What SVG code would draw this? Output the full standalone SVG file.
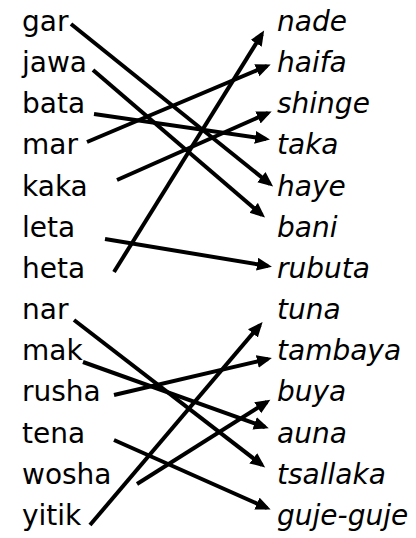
<svg xmlns="http://www.w3.org/2000/svg" width="416" height="538" viewBox="0 0 416 538">
<defs>
<style>
.l{font-family:"DejaVu Sans",sans-serif;font-size:28px;fill:#000}
.r{font-family:"DejaVu Sans",sans-serif;font-size:28px;font-style:italic;fill:#000}
.c line{stroke:#000;stroke-width:4;marker-end:url(#ah)}
</style>
<marker id="ah" markerUnits="userSpaceOnUse" markerWidth="16" markerHeight="14" refX="11" refY="6.5" orient="auto">
<path d="M0,0 L15,6.5 L0,13 z" fill="#000"/>
</marker>
</defs>
<rect width="416" height="538" fill="#fff"/>
<g id="left">
<g id="n-gar"><text class="l" x="22" y="31">gar</text></g>
<g id="n-jawa"><text class="l" x="22" y="72">jawa</text></g>
<g id="n-bata"><text class="l" x="22" y="113">bata</text></g>
<g id="n-mar"><text class="l" x="22" y="154">mar</text></g>
<g id="n-kaka"><text class="l" x="22" y="196">kaka</text></g>
<g id="n-leta"><text class="l" x="22" y="237">leta</text></g>
<g id="n-heta"><text class="l" x="22" y="278">heta</text></g>
<g id="n-nar"><text class="l" x="22" y="319">nar</text></g>
<g id="n-mak"><text class="l" x="22" y="360">mak</text></g>
<g id="n-rusha"><text class="l" x="22" y="401">rusha</text></g>
<g id="n-tena"><text class="l" x="22" y="443">tena</text></g>
<g id="n-wosha"><text class="l" x="22" y="484">wosha</text></g>
<g id="n-yitik"><text class="l" x="22" y="525">yitik</text></g>
</g>
<g id="right">
<g id="n-nade"><text class="r" x="277" y="31">nade</text></g>
<g id="n-haifa"><text class="r" x="277" y="72">haifa</text></g>
<g id="n-shinge"><text class="r" x="277" y="113">shinge</text></g>
<g id="n-taka"><text class="r" x="277" y="154">taka</text></g>
<g id="n-haye"><text class="r" x="277" y="196">haye</text></g>
<g id="n-bani"><text class="r" x="277" y="237">bani</text></g>
<g id="n-rubuta"><text class="r" x="277" y="278">rubuta</text></g>
<g id="n-tuna"><text class="r" x="277" y="319">tuna</text></g>
<g id="n-tambaya"><text class="r" x="277" y="360">tambaya</text></g>
<g id="n-buya"><text class="r" x="277" y="401">buya</text></g>
<g id="n-auna"><text class="r" x="277" y="443">auna</text></g>
<g id="n-tsallaka"><text class="r" x="277" y="484">tsallaka</text></g>
<g id="n-guje-guje"><text class="r" x="277" y="525">guje-guje</text></g>
</g>
<g id="connectors" class="c">
<line x1="71" y1="24" x2="270" y2="184"/>
<line x1="93" y1="70" x2="262" y2="215"/>
<line x1="94" y1="114" x2="266" y2="139"/>
<line x1="87" y1="142" x2="267" y2="66"/>
<line x1="117" y1="180" x2="268" y2="113"/>
<line x1="105" y1="239" x2="268" y2="266"/>
<line x1="114" y1="272" x2="262" y2="34"/>
<line x1="74" y1="320" x2="262" y2="465"/>
<line x1="83" y1="362" x2="265" y2="427"/>
<line x1="114" y1="395" x2="268" y2="359"/>
<line x1="114" y1="440" x2="267" y2="508"/>
<line x1="137" y1="484" x2="267" y2="402"/>
<line x1="90" y1="525" x2="260" y2="325"/>
</g>
</svg>
